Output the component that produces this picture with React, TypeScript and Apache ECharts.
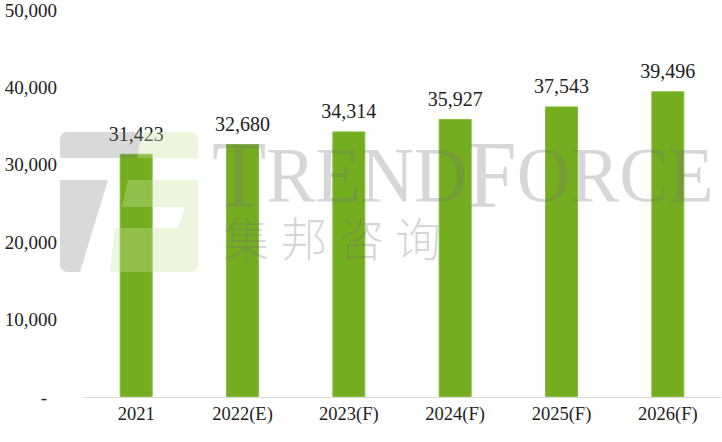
import React, { useEffect, useRef } from "react";
import * as echarts from "echarts";

const categories = ["2021", "2022(E)", "2023(F)", "2024(F)", "2025(F)", "2026(F)"];
const shipments = [31423, 32680, 34314, 35927, 37543, 39496];
const yMax = 50000;
const yInterval = 10000;
const watermarkCn = ["集", "邦", "咨", "询"];

const fmt = (v: number) => v.toLocaleString("en-US");

export default function App() {
  const ref = useRef<HTMLDivElement>(null);
  useEffect(() => {
    if (!ref.current) return;
    const chart = echarts.init(ref.current, null, { renderer: "svg" });
    const gray = "rgba(120,120,120,0.28)";
    const lgreen = "rgba(200,225,160,0.35)";
    const textGray = "rgba(110,110,110,0.28)";
    const cnX = [225, 283, 340, 397];
    const Z = 100;
    chart.setOption({
      animation: false,
      grid: { left: 83, right: 1, top: 10, bottom: 45, containLabel: false },
      xAxis: {
        type: "category",
        data: categories,
        axisTick: { show: false },
        axisLine: { lineStyle: { color: "#d9d9d9", width: 1 } },
        axisLabel: {
          color: "#222",
          fontFamily: "Liberation Serif",
          fontSize: 18.5,
          margin: 7,
        },
      },
      yAxis: {
        type: "value",
        min: 0,
        max: yMax,
        interval: yInterval,
        splitLine: { show: false },
        axisLine: { show: false },
        axisTick: { show: false },
        axisLabel: {
          color: "#222",
          fontFamily: "Liberation Serif",
          fontSize: 19,
          margin: 26,
          formatter: (v: number) => (v === 0 ? "{d|-}" : fmt(v)),
          rich: {
            d: { fontFamily: "Liberation Serif", fontSize: 19, color: "#222", padding: [0, 10, 0, 0] },
          },
        },
      },
      series: [
        {
          type: "bar",
          data: shipments,
          barWidth: 33,
          z: 2,
          itemStyle: { color: "#75AD20", borderColor: "#88BE3A", borderWidth: 1 },
          label: {
            show: true,
            position: "top",
            distance: 10,
            color: "#222",
            fontFamily: "Liberation Serif",
            fontSize: 20,
            formatter: (p: any) => fmt(p.value),
          },
        },
      ],
      graphic: [
        {
          type: "polygon",
          z: Z,
          silent: true,
          shape: { points: [[66, 132], [142, 132], [137, 158], [60, 158], [60, 138], [62, 134]] },
          style: { fill: gray },
        },
        {
          type: "polygon",
          z: Z,
          silent: true,
          shape: { points: [[60, 180], [108, 180], [80, 272], [66, 272], [62, 270], [60, 266]] },
          style: { fill: gray },
        },
        {
          type: "polygon",
          z: Z,
          silent: true,
          shape: { points: [[142, 132], [192, 132], [196, 134], [198, 138], [198, 158], [137, 158]] },
          style: { fill: lgreen },
        },
        {
          type: "polygon",
          z: Z,
          silent: true,
          shape: { points: [[128, 180], [198, 180], [198, 207], [122, 207]] },
          style: { fill: lgreen },
        },
        {
          type: "polygon",
          z: Z,
          silent: true,
          shape: { points: [[185, 207], [198, 207], [198, 228], [178, 228]] },
          style: { fill: lgreen },
        },
        {
          type: "polygon",
          z: Z,
          silent: true,
          shape: { points: [[115, 228], [198, 228], [198, 266], [196, 270], [192, 272], [110, 272]] },
          style: { fill: lgreen },
        },
        {
          type: "text",
          z: Z,
          silent: true,
          x: 212,
          y: 222,
          scaleX: 0.935,
          style: {
            text: "{b|T}{s|REND}{b|F}{s|ORCE}",
            verticalAlign: "bottom",
            rich: {
              b: { fontFamily: "Liberation Serif", fontSize: 95, fill: textGray, color: textGray },
              s: { fontFamily: "Liberation Serif", fontSize: 79, fill: textGray, color: textGray },
            },
          },
        },
        ...watermarkCn.map((ch, i) => ({
          type: "text",
          z: Z,
          silent: true,
          x: cnX[i] - 2,
          y: 213,
          style: {
            text: ch,
            fontFamily: "Noto Sans CJK SC",
            fontWeight: 300,
            fontSize: 46,
            fill: textGray,
            verticalAlign: "top",
          },
        })),
      ],
    });
    return () => chart.dispose();
  }, []);
  return (
    <div
      ref={ref}
      style={{ position: "fixed", left: 0, top: 0, width: 722, height: 442, background: "#fff" }}
    />
  );
}
